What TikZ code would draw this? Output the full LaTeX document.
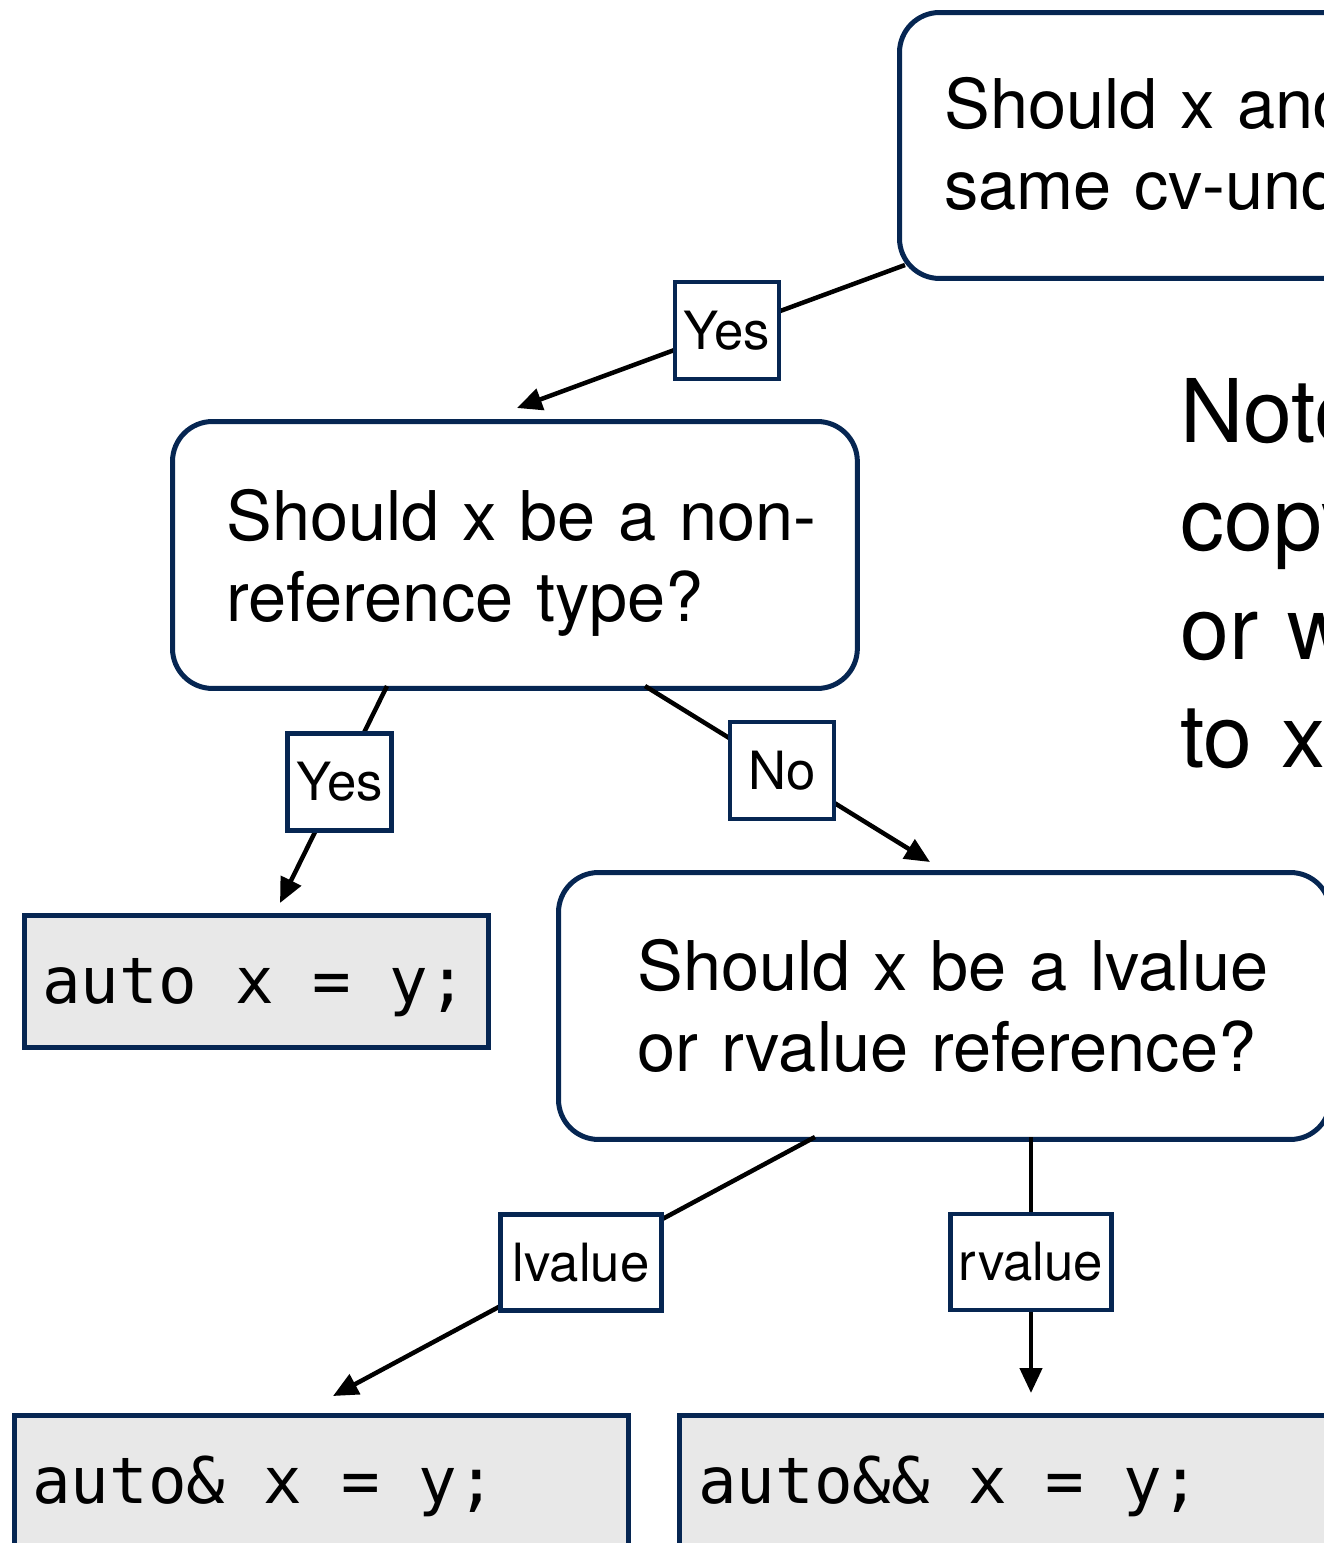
\documentclass[tikz,border=0pt]{standalone}
\usepackage{fontspec}
\setmainfont{TeX Gyre Heros}
\setmonofont{DejaVu Sans Mono}
\usetikzlibrary{arrows.meta}
\definecolor{navy}{RGB}{6,38,82}
\definecolor{codegray}{RGB}{232,232,232}
\begin{document}
\begin{tikzpicture}[x=0.02cm,y=-0.02cm,
  qbox/.style={draw=navy,line width=0.1cm,rounded corners=0.8cm,rectangle,anchor=north west,inner sep=0pt},
  cbox/.style={draw=navy,fill=codegray,line width=0.1cm,rectangle,anchor=north west,inner sep=0pt},
  qtext/.style={anchor=base west,inner sep=0pt,align=left,text width=20cm,font=\fontsize{39pt}{46.5pt}\selectfont},
  ntext/.style={anchor=base west,inner sep=0pt,align=left,text width=10cm,font=\fontsize{50pt}{61.8pt}\selectfont},
  ctext/.style={anchor=base west,inner sep=0pt,font=\ttfamily\fontsize{36.5pt}{40pt}\selectfont},
  lbl/.style={draw=navy,fill=white,line width=0.09cm,rectangle,inner sep=0pt,minimum height=1.94cm,font=\fontsize{30pt}{36pt}\selectfont},
  conn/.style={line width=0.09cm,-{Triangle[length=0.5cm,width=0.44cm]}}
]
\useasboundingbox (0,0) rectangle (1324,1543);
\clip (0,0) rectangle (1324,1543);

% question boxes
\node[qbox,minimum width=10.06cm,minimum height=5.32cm] (top) at (897,10) {};
\node[qtext] (toptxt) at (944,128) {Should x and\\same cv-unq};
\node[qbox,minimum width=13.7cm,minimum height=5.34cm] (mid1) at (170,419) {};
\node[qtext] (mid1txt) at (226,540) {Should x be a non-\\reference type?};
\node[qbox,minimum width=15.44cm,minimum height=5.34cm] (mid2) at (556,870) {};
\node[qtext] (mid2txt) at (637,990) {Should x be a lvalue\\or rvalue reference?};

% side note
\node[ntext] (note) at (1180,442) {Note\\copy\\or w\\to x};

% code boxes
\node[cbox,minimum width=9.28cm,minimum height=2.64cm] (code1) at (22,913) {};
\node[ctext] (code1txt) at (42,1003) {auto x = y;};
\node[cbox,minimum width=12.28cm,minimum height=4cm] (code2) at (12,1413) {};
\node[ctext] (code2txt) at (32,1503) {auto\& x = y;};
\node[cbox,minimum width=14.46cm,minimum height=4cm] (code3) at (677,1413) {};
\node[ctext] (code3txt) at (698,1503) {auto\&\& x = y;};

% connector end points on the box borders
\coordinate (topout) at (905,265);
\coordinate (mid1in) at (517,408);
\coordinate (mid1outL) at (387,686);
\coordinate (code1in) at (280,903);
\coordinate (mid1outR) at (645,686);
\coordinate (mid2in) at (930,862);
\coordinate (mid2outL) at (815,1137);
\coordinate (code2in) at (333,1396);
\coordinate (mid2outR) at (1031,1137);
\coordinate (code3in) at (1031,1393);

% connectors with their labels
\draw[conn] (topout) -- node[lbl,pos=0.459,minimum width=2.08cm] (yes1) {Yes} (mid1in);
\draw[conn] (mid1outL) -- node[lbl,pos=0.442,minimum width=2.08cm] (yes2) {Yes} (code1in);
\draw[conn] (mid1outR) -- node[lbl,pos=0.48,minimum width=2.08cm] (no1) {No} (mid2in);
\draw[conn] (mid2outL) -- node[lbl,pos=0.485,minimum width=3.22cm,minimum height=1.92cm] (lval) {lvalue} (code2in);
\draw[conn] (mid2outR) -- node[lbl,pos=0.488,minimum width=3.22cm,minimum height=1.92cm] (rval) {rvalue} (code3in);
\end{tikzpicture}
\end{document}
